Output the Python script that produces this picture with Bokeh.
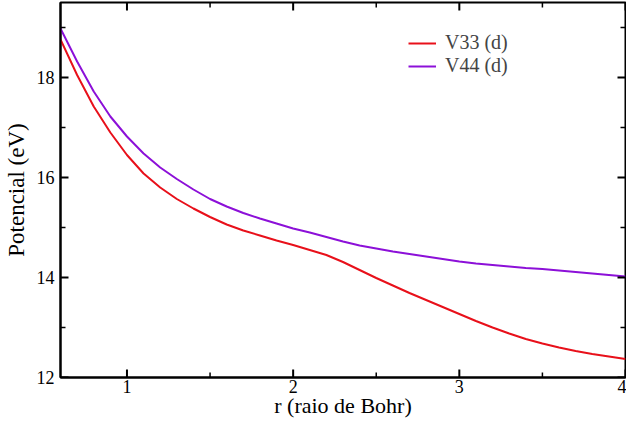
import math
from bokeh.plotting import figure
from bokeh.models import Range1d, Legend, LegendItem, FixedTicker
from bokeh.embed import file_html
from bokeh.resources import INLINE

r = [0.6, 0.7, 0.8, 0.9, 1.0, 1.1, 1.2, 1.3, 1.4, 1.5, 1.6, 1.7, 1.8, 1.9, 2.0,
     2.1, 2.2, 2.3, 2.4, 2.5, 2.6, 2.7, 2.8, 2.9, 3.0, 3.1, 3.2, 3.3, 3.4, 3.5,
     3.6, 3.7, 3.8, 3.9, 4.0]
v33 = [18.76, 18.05, 17.42, 16.90, 16.45, 16.08, 15.80, 15.57, 15.38, 15.21,
       15.06, 14.94, 14.84, 14.74, 14.65, 14.55, 14.45, 14.31, 14.15, 13.99,
       13.84, 13.69, 13.55, 13.41, 13.27, 13.13, 13.00, 12.88, 12.77, 12.68,
       12.60, 12.53, 12.47, 12.42, 12.37]
v44 = [18.98, 18.32, 17.72, 17.22, 16.82, 16.48, 16.20, 15.97, 15.76, 15.57,
       15.42, 15.29, 15.18, 15.08, 14.98, 14.90, 14.81, 14.72, 14.64, 14.58,
       14.52, 14.47, 14.42, 14.37, 14.32, 14.28, 14.25, 14.22, 14.19, 14.17,
       14.14, 14.11, 14.08, 14.05, 14.02]
series_names = ["V33 (d)", "V44 (d)"]
x_ticks = [1, 2, 3, 4]
x_minor = [0.5, 1.5, 2.5, 3.5]
y_ticks = [12, 14, 16, 18]
y_minor = [13, 15, 17, 19]
X0, X1, Y0, Y1 = 0.6, 4.0, 12.0, 19.5

FONT = "Liberation Serif"
RED = "#e8101a"
PURPLE = "#8c10d8"

p = figure(width=626, height=420, output_backend="svg", toolbar_location=None,
           x_range=Range1d(X0, X1), y_range=Range1d(Y0, Y1),
           min_border_left=54, min_border_right=1, min_border_top=2,
           min_border_bottom=38)
p.background_fill_color = "white"
p.border_fill_color = "white"
p.outline_line_color = "black"
p.outline_line_width = 2
p.xgrid.visible = False
p.ygrid.visible = False

l1 = p.line(r, v33, line_color=RED, line_width=2)
l2 = p.line(r, v44, line_color=PURPLE, line_width=2)

# inward ticks on all four sides (screen-length rays at the tick values)
xm = [t for t in x_minor if X0 <= t <= X1]
ym = [t for t in y_minor if Y0 <= t <= Y1]
for xs, ln, w in ((x_ticks, 8, 2), (xm, 5, 1.5)):
    p.ray(x=xs, y=[Y0] * len(xs), length=ln, length_units="screen",
          angle=math.pi / 2, line_color="black", line_width=w)
    p.ray(x=xs, y=[Y1] * len(xs), length=ln, length_units="screen",
          angle=-math.pi / 2, line_color="black", line_width=w)
for ys, ln, w in ((y_ticks, 8, 2), (ym, 5, 1.5)):
    p.ray(x=[X0] * len(ys), y=ys, length=ln, length_units="screen",
          angle=0, line_color="black", line_width=w)
    p.ray(x=[X1] * len(ys), y=ys, length=ln, length_units="screen",
          angle=math.pi, line_color="black", line_width=w)


def style(ax):
    ax.axis_line_color = "black"
    ax.axis_line_width = 2
    ax.major_tick_in = 0
    ax.major_tick_out = 0
    ax.minor_tick_in = 0
    ax.minor_tick_out = 0
    ax.major_label_text_font = FONT
    ax.major_label_text_font_size = "18px"
    ax.major_label_text_color = "black"
    ax.axis_label_text_font = FONT
    ax.axis_label_text_font_size = "23px"
    ax.axis_label_text_font_style = "normal"
    ax.axis_label_text_color = "black"


p.xaxis.ticker = FixedTicker(ticks=x_ticks)
p.yaxis.ticker = FixedTicker(ticks=y_ticks)
p.xaxis.axis_label = "r (raio de Bohr)"
p.yaxis.axis_label = "Potencial (eV)"
style(p.xaxis[0])
style(p.yaxis[0])
p.xaxis.axis_label_text_font_size = "22px"
p.xaxis.major_label_standoff = 2
p.yaxis.major_label_standoff = 6
p.xaxis.axis_label_standoff = -3
p.yaxis.axis_label_standoff = 5

legend = Legend(items=[LegendItem(label=series_names[0], renderers=[l1]),
                       LegendItem(label=series_names[1], renderers=[l2])],
                location=(346, 298))
legend.border_line_alpha = 0
legend.background_fill_alpha = 0
legend.label_text_font = FONT
legend.label_text_font_size = "20px"
legend.glyph_width = 28
legend.label_standoff = 9
legend.spacing = 0
legend.padding = 2
legend.label_height = 22
legend.glyph_height = 22
p.add_layout(legend, "center")

open("out.html", "w").write(file_html(p, INLINE))
